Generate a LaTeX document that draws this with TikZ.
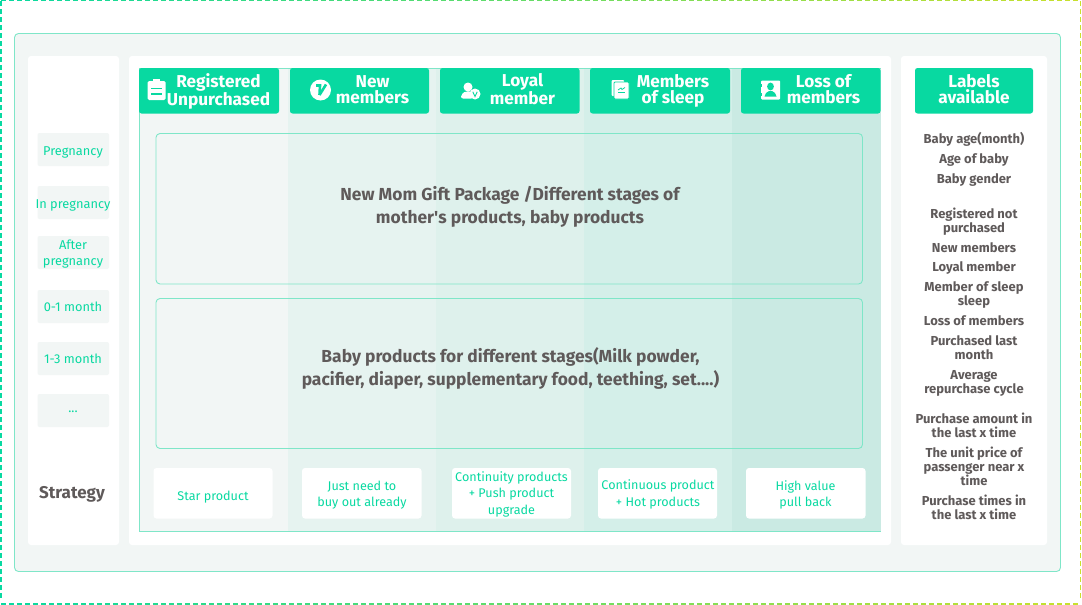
\documentclass[tikz,border=0pt]{standalone}
\usepackage{fontspec}
\setmainfont{Fira Sans}
\definecolor{tealc}{HTML}{08D9A1}
\definecolor{edge}{HTML}{7FE6C8}
\definecolor{pale}{HTML}{F2F6F5}
\definecolor{dark}{HTML}{5F5A5A}
\definecolor{limec}{HTML}{C9E02C}
\definecolor{col2}{HTML}{E6F3F0}
\definecolor{col3}{HTML}{DEF1EC}
\definecolor{col4}{HTML}{D4EFE9}
\definecolor{col5}{HTML}{CAEAE3}
\tikzset{
 card/.style={fill=white,rounded corners=3pt},
 head/.style={fill=tealc,rounded corners=2.5pt,draw=none},
 headtxt/.style={text=white,font=\fontsize{17.2}{16}\selectfont\bfseries,align=center,inner sep=0pt},
 stage/.style={fill=pale,rounded corners=2pt},
 stagetxt/.style={text=tealc,font=\fontsize{12.8}{16}\selectfont,align=center,inner sep=0pt},
 strat/.style={card},
 strattxt/.style={text=tealc,font=\fontsize{12.6}{16.5}\selectfont,align=center,inner sep=0pt},
 lab/.style={text=dark,font=\fontsize{13}{14}\selectfont\bfseries,align=center,inner sep=0pt},
 bigtxt/.style={text=dark,font=\fontsize{17.4}{23.5}\selectfont\bfseries,align=center,inner sep=0pt},
 inbox/.style={draw=edge,rounded corners=4pt,line width=.9pt},
}
\begin{document}
\begin{tikzpicture}[x=1pt,y=-1pt]
\useasboundingbox (0,0) rectangle (1082,605);
% dashed gradient frame
\foreach \x in {1,9,...,1074}{
  \pgfmathsetmacro\p{\x/10.8}
  \draw[color=limec!\p!tealc,line width=1.3pt] (\x,0.8) -- (\x+5,0.8);
  \draw[color=limec!\p!tealc,line width=1.3pt] (\x,604) -- (\x+5,604);
}
\foreach \y in {1,9,...,600}{
  \draw[tealc,line width=1.3pt] (1,\y) -- (1,\y+5);
  \draw[limec,line width=1.3pt] (1080.5,\y) -- (1080.5,\y+5);
}
% outer panel
\path[fill=pale,draw=edge,line width=.9pt,rounded corners=4pt] (14.5,33.5) rectangle (1060.5,571.5);
\path[card] (28,56) rectangle (119,545);
\path[card] (129,56) rectangle (891,545);
\path[card] (901,56) rectangle (1047,545);
% column tints
\fill[pale] (139.5,68) rectangle (288,531.5);
\fill[col2] (288,68) rectangle (436,531.5);
\fill[col3] (436,68) rectangle (584,531.5);
\fill[col4] (584,68) rectangle (732,531.5);
\fill[col5] (732,68) rectangle (880.5,531.5);
\draw[edge,line width=.8pt] (880.5,68) -- (139.5,68) -- (139.5,531.5) -- (880.5,531.5);
% inner boxes
\path[inbox] (156,133.5) rectangle (862.5,284);
\node[bigtxt] (t1) at (510,207) {New Mom Gift Package /Different stages of\\mother\textquotesingle s products, baby products};
\path[inbox] (156,298.5) rectangle (862.5,448.5);
\node[bigtxt] (t2) at (510.5,368.5) {Baby products for different stages(Milk powder,\\pacifier, diaper, supplementary food, teething, set....)};
% headers
\path[head] (139,68) rectangle (279,113.5);
\path[head] (290,68) rectangle (429,113.5);
\path[head] (440,68) rectangle (579.5,113.5);
\path[head] (590,68) rectangle (730,113.5);
\path[head] (741,68) rectangle (880.5,113.5);
\path[head] (915,68) rectangle (1033,113.5);
\node[headtxt] (h1) at (218.5,91) {Registered\\Unpurchased};
\node[headtxt] (h2) at (372.5,90) {New\\members};
\node[headtxt] (h3) at (522.5,89.5) {Loyal\\member};
\node[headtxt] (h4) at (673,91) {Members\\of sleep};
\node[headtxt] (h5) at (823.5,89) {Loss of\\members};
\node[headtxt] (h6) at (974,89) {Labels\\available};
% icon 1: clipboard
\fill[white,rounded corners=1.5pt] (147.5,81) rectangle (165.5,100);
\fill[white] (153,79) rectangle (160,83);
\fill[tealc] (151,87.5) rectangle (162,89);\fill[tealc] (151,93) rectangle (162,94.5);
% icon 2: v badge
\fill[white] (320.5,90) circle (10.5);
\draw[tealc,line width=2.6pt] (316,85.5) -- (320,85.5) -- (319.5,95);
\draw[tealc,line width=2.6pt] (319.5,95) -- (326,84.5);
% icon 3: person with v
\fill[white] (468,87) circle (4.5);
\fill[white,rounded corners=2pt] (461,98.5) -- (461,94.5) -- (466,91) -- (473,92) -- (473,98.5) -- cycle;
\fill[white] (475,94) circle (5.5);
\draw[tealc,line width=.9pt] (472.8,91.8) -- (475,96.5) -- (477.2,91.8);
% icon 4: notes
\fill[white,rounded corners=1pt] (611.5,80) rectangle (624,96);
\draw[tealc,line width=.8pt,fill=white,rounded corners=1pt] (614,82) rectangle (629,99);
\draw[tealc,line width=.8pt] (618,90) -- (621,88) -- (622,89.5) -- (625,87.5);
\draw[tealc,line width=.8pt] (618,92.5) -- (625,92.5);
% icon 5: contact card
\fill[white,rounded corners=1pt] (761,80.5) rectangle (780,99.5);
\fill[tealc] (770.5,86.5) ellipse (3.4 and 3.9);
\fill[tealc] (764.5,96.5) -- (766,93) -- (769,91) -- (772,91) -- (775,93) -- (776.5,96.5) -- cycle;
\fill[tealc] (760.5,84) rectangle (762,87);\fill[tealc] (760.5,93) rectangle (762,96);
% left column
\path[stage] (37.5,133) rectangle (109,166);
\path[stage] (37.5,186) rectangle (109,219);
\path[stage] (37.5,236) rectangle (109,269);
\path[stage] (37.5,290) rectangle (109,323);
\path[stage] (37.5,342) rectangle (109,375);
\path[stage] (37.5,394) rectangle (109,427);
\node[stagetxt] (s1) at (73,152.5) {Pregnancy};
\node[stagetxt] (s2) at (73,205.5) {In pregnancy};
\node[stagetxt] (s3) at (73,254) {After\\pregnancy};
\node[stagetxt] (s4) at (73,307) {0-1 month};
\node[stagetxt] (s5) at (73,359) {1-3 month};
\node[stagetxt] (s6) at (73,412) {...};
\node[text=dark,font=\fontsize{17}{18}\selectfont\bfseries,inner sep=0pt] (strategy) at (72,494) {Strategy};
% strategy cards
\path[strat] (153.5,468) rectangle (272.5,518.5);
\path[strat] (302,468) rectangle (421.5,518.5);
\path[strat] (452,468) rectangle (571,518.5);
\path[strat] (598,468) rectangle (717,518.5);
\path[strat] (746,468) rectangle (865.5,518.5);
\node[strattxt] (c1) at (213,497) {Star product};
\node[strattxt] (c2) at (362,495) {Just need to\\buy out already};
\node[strattxt] (c3) at (511.5,494) {Continuity products\\+ Push product\\upgrade};
\node[strattxt] (c4) at (658,494.5) {Continuous product\\+ Hot products};
\node[strattxt] (c5) at (805.5,495) {High value\\pull back};
% right labels
\node[lab] (l1) at (974,139.5) {Baby age(month)};
\node[lab] (l2) at (974,160) {Age of baby};
\node[lab] (l3) at (974,180) {Baby gender};
\node[lab] (l4) at (974,222) {Registered not\\purchased};
\node[lab] (l5) at (974,248) {New members};
\node[lab] (l6) at (974,268) {Loyal member};
\node[lab] (l7) at (974,295) {Member of sleep\\sleep};
\node[lab] (l8) at (974,321) {Loss of members};
\node[lab] (l9) at (974,348) {Purchased last\\month};
\node[lab] (l10) at (974,383) {Average\\repurchase cycle};
\node[lab] (l11) at (974,425) {Purchase amount in\\the last x time};
\node[lab] (l12) at (974,466) {The unit price of\\passenger near x\\time};
\node[lab] (l13) at (974,507.5) {Purchase times in\\the last x time};
\end{tikzpicture}
\end{document}
